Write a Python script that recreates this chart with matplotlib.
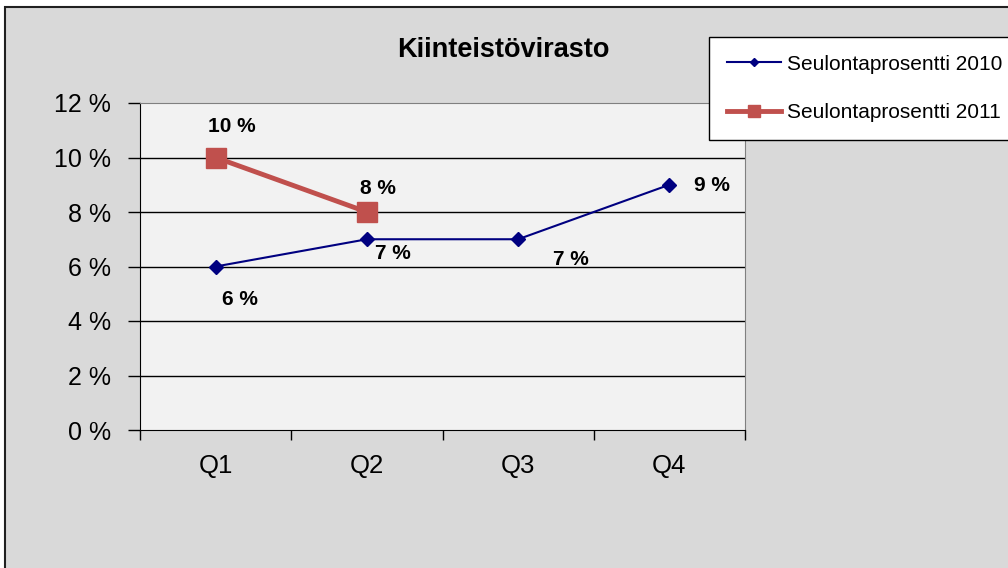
import matplotlib
matplotlib.use("Agg")
import matplotlib.pyplot as plt
from matplotlib.patches import Rectangle
from matplotlib.ticker import FuncFormatter

categories = ["Q1", "Q2", "Q3", "Q4"]
series_2010 = [6, 7, 7, 9]
series_2011 = [10, 8]
label_2010 = "Seulontaprosentti 2010"
label_2011 = "Seulontaprosentti 2011"
title = "Kiinteistövirasto"
yticks = [0, 2, 4, 6, 8, 10, 12]

plt.rcParams['font.family'] = ['Liberation Sans', 'DejaVu Sans']

fig = plt.figure(figsize=(10.08, 5.68), dpi=100)
fig.patch.set_facecolor('white')
# chart area background with border
fig.patches.append(Rectangle((5/1008, -0.1), 1.2, (568-7)/568 + 0.1, transform=fig.transFigure,
                             facecolor='#d9d9d9', edgecolor='#202020', linewidth=1.5, zorder=-10))

ax = fig.add_axes([140/1008, 1-430/568, (745-140)/1008, (430-103)/568])
ax.set_zorder(2)
ax.set_facecolor('#f2f2f2')
x = list(range(len(categories)))
ax.plot(x, series_2010, color='#000080', marker='D', markersize=7, linewidth=1.5, label=label_2010, zorder=3)
ax.plot(x[:len(series_2011)], series_2011, color='#c0504d', marker='s', markersize=14, linewidth=3.5,
        label=label_2011, zorder=3)

ax.set_xlim(-0.5, 3.5)
ax.set_ylim(0, 12)
ax.set_yticks(yticks)
ax.yaxis.set_major_formatter(FuncFormatter(lambda v, p: f"{int(v)} %"))
ax.set_xticks(x)
ax.set_xticklabels(categories)
ax.set_xticks([-0.5, 0.5, 1.5, 2.5, 3.5], minor=True)
ax.tick_params(axis='x', which='major', length=0, pad=17, labelsize=18.5)
ax.tick_params(axis='x', which='minor', length=7, direction='out', width=1)
ax.tick_params(axis='y', length=9, direction='out', width=1, labelsize=18, pad=12)
for v in yticks[1:-1]:
    ax.axhline(v, color='black', linewidth=1, zorder=1)
ax.spines['left'].set_color('black')
ax.spines['bottom'].set_color('black')
ax.spines['top'].set_color('#808080')
ax.spines['right'].set_color('#808080')

# data labels (offsets in pixels, converted to points)
px = 72 / 100
offs_2010 = [(24, -33), (26, -14), (53, -20), (43, -1)]
for xi, v, (dx, dy) in zip(x, series_2010, offs_2010):
    ax.annotate(f"{v} %", (xi, v), xytext=(dx * px, dy * px), textcoords='offset points', ha='center',
                va='center', fontsize=15, fontweight='bold')
offs_2011 = [(16, 31), (11, 24)]
for xi, v, (dx, dy) in zip(x, series_2011, offs_2011):
    ax.annotate(f"{v} %", (xi, v), xytext=(dx * px, dy * px), textcoords='offset points', ha='center',
                va='center', fontsize=15, fontweight='bold')

fig.text(503/1008, 1-50/568, title, ha='center', va='center', fontsize=19.5, fontweight='bold')

leg = fig.legend(loc='upper left', bbox_to_anchor=(709/1008, 1-37/568), frameon=True, fontsize=15,
                 fancybox=False, edgecolor='black', framealpha=1, labelspacing=1.4, handlelength=2.6,
                 handletextpad=0.3, borderpad=0.85, borderaxespad=0, markerscale=0.6)
leg.get_frame().set_linewidth(1)
leg.set_zorder(5)

fig.savefig('out.png', dpi=100)
